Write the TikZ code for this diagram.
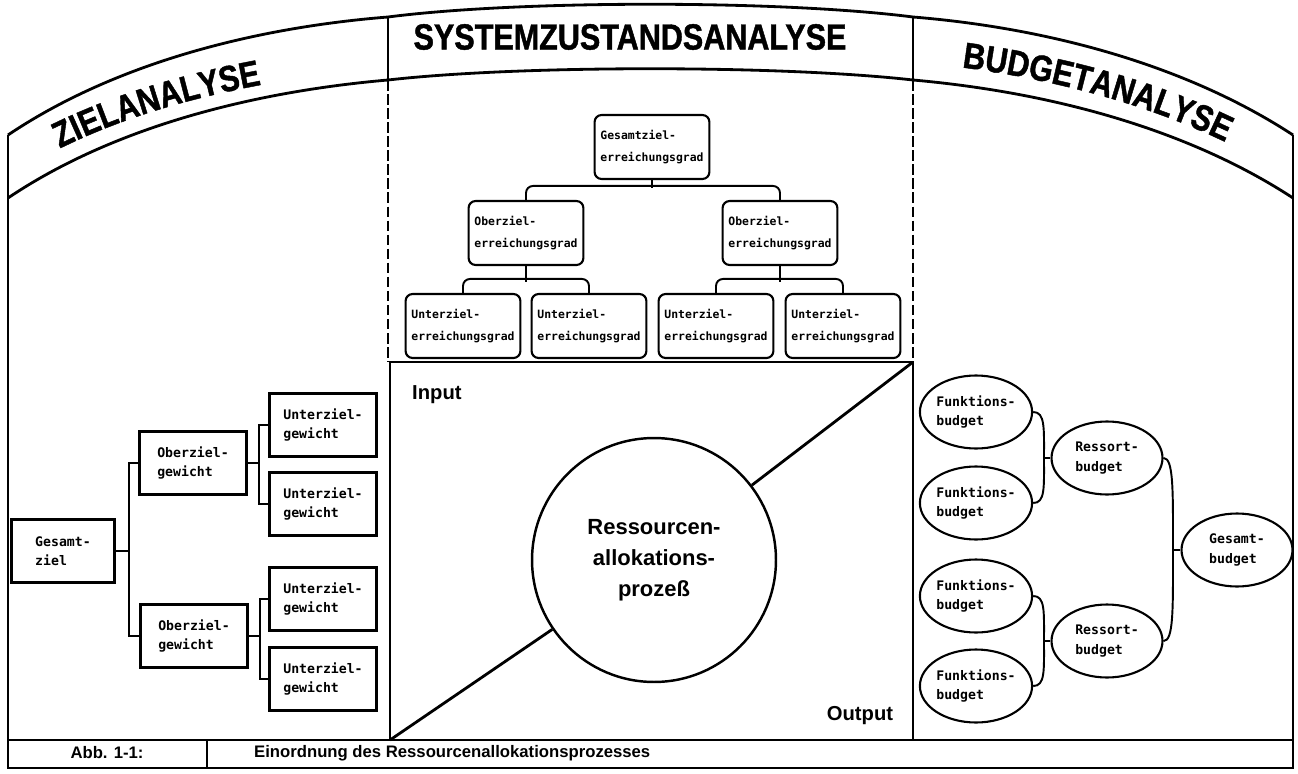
\documentclass[tikz,border=0pt]{standalone}
\usepackage{fontspec}
\setmainfont{Liberation Sans}
\newfontfamily\headfont[FakeStretch=0.84, FakeBold=1.2]{Liberation Sans Bold}
\newfontfamily\boxfont{DejaVu Sans Mono}
\usetikzlibrary{positioning, shapes.geometric, decorations.text}
\tikzstyle{frame} = [line width=1.6pt]
\tikzstyle{link} = [line width=1.1pt]

\begin{document}
\begin{tikzpicture}[x=0.02cm, y=-0.02cm]
    \tikzstyle{sqbox} = [draw, line width=1.2pt, minimum width=2.14cm,
    minimum height=1.26cm, align=left,
    font=\boxfont\bfseries\fontsize{7.5}{11}\selectfont]
    \tikzstyle{rndbox} = [sqbox, rounded corners=4pt, minimum width=2.28cm,
    minimum height=1.28cm, font=\boxfont\bfseries\fontsize{6.5}{12}\selectfont]
    \tikzstyle{oval} = [ellipse, draw, line width=1.2pt, inner sep=0pt,
    minimum width=2.22cm, minimum height=1.46cm, align=left,
    font=\boxfont\bfseries\fontsize{7.5}{11}\selectfont]
    \tikzstyle{head} = [font=\headfont\fontsize{20.7}{24}\selectfont]
    \tikzstyle{io} = [font=\bfseries\fontsize{11.5}{14}\selectfont]
    \tikzstyle{capt} = [font=\bfseries\fontsize{9.5}{12}\selectfont]

    \useasboundingbox (0,0) rectangle (1298,774);

    % banner and frame
    \draw[frame] (8,135) .. controls (112,65) and (250,28) .. (388,17)
        .. controls (520,0) and (780,0) .. (913,17)
        .. controls (1048,28) and (1186,65) .. (1293,135);
    \draw[frame] (8,198) .. controls (112,128) and (250,92) .. (388,80)
        .. controls (520,65) and (780,65) .. (913,80)
        .. controls (1048,92) and (1186,128) .. (1293,198);
    \draw[frame] (8,135) -- (8,768) -- (1293,768) -- (1293,135);
    \draw[frame] (8,740) -- (1293,740);
    \draw[frame] (207,740) -- (207,768);
    \draw[link] (388,17) -- (388,80);
    \draw[link] (913,17) -- (913,80);
    \draw[link, dash pattern=on 6pt off 2pt] (388,80) -- (388,362);
    \draw[link, dash pattern=on 6pt off 2pt] (913,80) -- (913,362);

    \path[decorate, decoration={text along path,
        text={|\headfont\fontsize{20.7}{24}\selectfont|ZIELANALYSE},
        text align={left indent=34pt}}]
        (8,178) .. controls (112,110) and (250,80) .. (388,68);
    \node[head] (sza) at (630,37) {SYSTEMZUSTANDSANALYSE};
    \path[decorate, decoration={text along path,
        text={|\headfont\fontsize{20.7}{24}\selectfont|BUDGETANALYSE},
        text align={left indent=28pt}}]
        (913,62) .. controls (1048,74) and (1186,110) .. (1293,180);

    % Zielanalyse
    \node[sqbox, minimum width=2.06cm] (gz) at (63,551) {Gesamt-\\ziel};
    \node[sqbox] (oz1) at (193,463) {Oberziel-\\gewicht};
    \node[sqbox] (oz2) at (194,636) {Oberziel-\\gewicht};
    \node[sqbox] (uz1) at (323,425) {Unterziel-\\gewicht};
    \node[sqbox] (uz2) at (323,504) {Unterziel-\\gewicht};
    \node[sqbox] (uz3) at (323,599) {Unterziel-\\gewicht};
    \node[sqbox] (uz4) at (323,679) {Unterziel-\\gewicht};

    \draw[link] (gz.east) -- ++(13,0) |- (oz1.west);
    \draw[link] (gz.east) -- ++(13,0) |- (oz2.west);
    \draw[link] (oz1.east) -- ++(11,0) |- (uz1.west);
    \draw[link] (oz1.east) -- ++(11,0) |- (uz2.west);
    \draw[link] (oz2.east) -- ++(11,0) |- (uz3.west);
    \draw[link] (oz2.east) -- ++(11,0) |- (uz4.west);

    % Systemzustandsanalyse
    \node[rndbox] (gg) at (652,147) {Gesamtziel-\\erreichungsgrad};
    \node[rndbox] (og1) at (526,233) {Oberziel-\\erreichungsgrad};
    \node[rndbox] (og2) at (780,233) {Oberziel-\\erreichungsgrad};
    \node[rndbox] (ug1) at (463,326) {Unterziel-\\erreichungsgrad};
    \node[rndbox] (ug2) at (589,326) {Unterziel-\\erreichungsgrad};
    \node[rndbox] (ug3) at (716,326) {Unterziel-\\erreichungsgrad};
    \node[rndbox] (ug4) at (843,326) {Unterziel-\\erreichungsgrad};

    \draw[link] (gg.south) -- ++(0,8);
    \draw[link, rounded corners=4pt] (og1.north) -- ++(0,-14) -| (og2.north);
    \draw[link] (og1.south) -- ++(0,16);
    \draw[link, rounded corners=4pt] (ug1.north) -- ++(0,-14) -| (ug2.north);
    \draw[link] (og2.south) -- ++(0,16);
    \draw[link, rounded corners=4pt] (ug3.north) -- ++(0,-14) -| (ug4.north);

    % Ressourcenallokation
    \draw[frame] (390,362) rectangle (913,740);
    \node[circle, draw, line width=1.4pt, minimum size=4.88cm, align=center,
        font=\bfseries\fontsize{12.5}{17.6}\selectfont] (proc) at (654,560)
        {Ressourcen-\\allokations-\\prozeß};
    \coordinate (ecklu) at (390,740);
    \coordinate (eckro) at (913,362);
    \draw[frame] (ecklu) -- (proc);
    \draw[frame] (proc) -- (eckro);
    \node[io, anchor=west] (inp) at (406,395) {Input};
    \node[io] (outp) at (860,716) {Output};

    % Budgetanalyse
    \node[oval] (fb1) at (976,412) {Funktions-\\budget};
    \node[oval] (fb2) at (976,503) {Funktions-\\budget};
    \node[oval] (fb3) at (976,596) {Funktions-\\budget};
    \node[oval] (fb4) at (976,686) {Funktions-\\budget};
    \node[oval] (rb1) at (1107,458) {Ressort-\\budget};
    \node[oval] (rb2) at (1107,641) {Ressort-\\budget};
    \node[oval] (gb) at (1237,550) {Gesamt-\\budget};

    \coordinate (j1) at (1044,458);
    \coordinate (j2) at (1044,641);
    \coordinate (j3) at (1173,550);
    \draw[link] (fb1.east) .. controls +(12,0) and +(0,-30) .. (j1)
        .. controls +(0,30) and +(12,0) .. (fb2.east);
    \draw[link] (j1) -- (rb1.west);
    \draw[link] (fb3.east) .. controls +(12,0) and +(0,-30) .. (j2)
        .. controls +(0,30) and +(12,0) .. (fb4.east);
    \draw[link] (j2) -- (rb2.west);
    \draw[link] (rb1.east) .. controls +(10,0) and +(0,-60) .. (j3)
        .. controls +(0,60) and +(10,0) .. (rb2.east);
    \draw[link] (j3) -- (gb.west);

    % Unterschrift
    \node[capt] (abb) at (107,753) {Abb. 1-1:};
    \node[capt, anchor=west] (titel) at (248,753)
        {Einordnung des Ressourcenallokationsprozesses};
\end{tikzpicture}
\end{document}
